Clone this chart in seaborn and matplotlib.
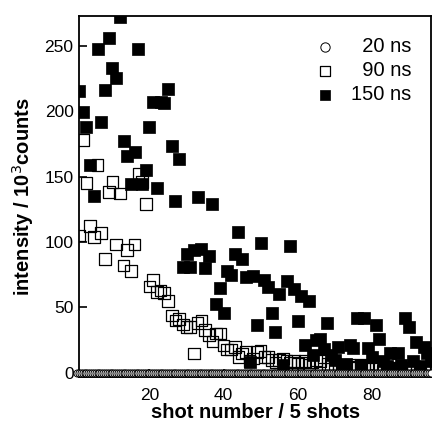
import numpy as np
import pandas as pd
import seaborn as sns
import matplotlib.pyplot as plt

# 20 ns: all at zero
shot_20 = np.arange(0.5, 96.5, 0.5)
int_20 = [0.0] * len(shot_20)

# 90 ns (open squares)
shot_90 = list(range(1, 97))
int_90 = [105, 178, 145, 112, 104, 159, 107, 87, 138, 146,
          98, 137, 82, 94, 78, 98, 152, 146, 129, 66,
          71, 62, 63, 61, 55, 44, 40, 41, 37, 35,
          35, 15, 38, 40, 33, 29, 24, 30, 30, 21,
          18, 18, 20, 12, 15, 16, 9, 11, 16, 17,
          12, 12, 10, 8, 10, 11, 9, 8, 9, 7,
          8, 9, 6, 8, 10, 9, 12, 7, 6, 7,
          5, 6, 5, 6, 4, 5, 6, 3, 4, 5,
          3, 4, 2, 5, 3, 4, 2, 3, 4, 2,
          3, 4, 2, 3, 2, 3]

# 150 ns (filled squares)
shot_150 = list(range(1, 97))
int_150 = [215, 199, 188, 159, 135, 247, 192, 216, 256, 233,
           225, 272, 177, 166, 144, 169, 247, 144, 155, 188,
           207, 141, 207, 206, 217, 173, 131, 163, 81, 91,
           81, 94, 134, 95, 80, 89, 129, 53, 65, 46,
           78, 75, 91, 108, 87, 73, 8, 74, 37, 99,
           71, 66, 46, 31, 60, 6, 70, 97, 64, 40,
           59, 21, 55, 14, 25, 26, 18, 38, 14, 10,
           20, 5, 7, 21, 19, 42, 6, 42, 19, 12,
           37, 26, 9, 5, 15, 4, 15, 6, 42, 35,
           9, 24, 5, 20, 15, 9]

df20 = pd.DataFrame({"shot": shot_20, "intensity": int_20})
df90 = pd.DataFrame({"shot": shot_90, "intensity": int_90})
df150 = pd.DataFrame({"shot": shot_150, "intensity": int_150})

sns.set_style("ticks", {"axes.edgecolor": "black", "text.color": "black",
                        "axes.labelcolor": "black", "xtick.color": "black",
                        "ytick.color": "black"})
plt.rcParams["font.family"] = ["Liberation Sans", "DejaVu Sans"]

fig = plt.figure(figsize=(4.32, 4.23), dpi=100)
ax = fig.add_axes([0.183, 0.109, 0.815, 0.853])

sns.scatterplot(data=df150, x="shot", y="intensity", ax=ax, marker="s", s=70,
                color="black", edgecolor="black", linewidth=0.5, label="150 ns", zorder=2)
sns.scatterplot(data=df90, x="shot", y="intensity", ax=ax, marker="s", s=70,
                facecolor="none", edgecolor="black", linewidth=0.9, label="  90 ns", zorder=3)
sns.scatterplot(data=df20, x="shot", y="intensity", ax=ax, marker="o", s=26,
                facecolor="white", edgecolor="black", linewidth=0.7, label="  20 ns",
                zorder=4, clip_on=False)

ax.set_xlim(1, 96)
ax.set_ylim(-3, 272.5)
ax.set_xticks([20, 40, 60, 80])
ax.set_yticks([0, 50, 100, 150, 200, 250])
ax.tick_params(direction="in", length=6, width=1.2, labelsize=12.5, pad=4)
ax.tick_params(axis="x", pad=8)
for sp in ax.spines.values():
    sp.set_linewidth(1.3)

ax.set_xlabel("shot number / 5 shots", fontsize=14.5, fontweight="bold", labelpad=0)
ax.set_ylabel("intensity / 10$^3$counts", fontsize=14.5, fontweight="bold", labelpad=6)

handles, labels = ax.get_legend_handles_labels()
order = [2, 1, 0]
leg = ax.legend([handles[i] for i in order], [labels[i] for i in order],
                loc="upper right", frameon=False, fontsize=14.5,
                handletextpad=0.3, labelspacing=0.25, borderaxespad=0.3,
                bbox_to_anchor=(0.985, 0.98))
for h, sz in zip(leg.legend_handles, [45, 55, 55]):
    h.set_sizes([sz])

fig.savefig("out.png", dpi=100)
